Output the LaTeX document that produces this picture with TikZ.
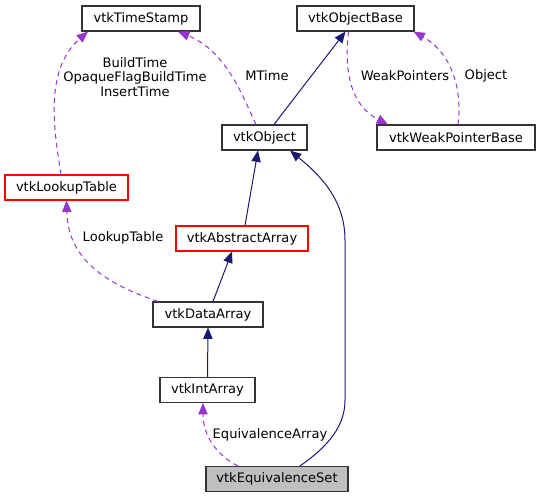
\documentclass[tikz,border=0pt]{standalone}
\usepackage{fontspec}
\setmainfont{DejaVu Sans}
\usetikzlibrary{arrows.meta,calc}
\definecolor{edgeblue}{HTML}{191970}
\definecolor{edgepurple}{HTML}{9A32CD}
\definecolor{nodeborder}{HTML}{333333}
\begin{document}
\begin{tikzpicture}[x=0.75pt,y=-0.75pt,
  font=\fontsize{9.8pt}{10.9pt}\selectfont,
  cls/.style={draw=nodeborder,line width=0.8pt,fill=white,minimum height=18.75pt,inner sep=0pt,anchor=center},
  redcls/.style={cls,draw=red},
  curcls/.style={cls,fill=black!25},
  inh/.style={draw=edgeblue,line width=0.75pt,-{Triangle[length=8.5pt,width=7pt]}},
  use/.style={draw=edgepurple,line width=0.75pt,dash pattern=on 3.75pt off 3pt,-{Triangle[length=8.5pt,width=7pt]}},
  lbl/.style={inner sep=0pt,align=center}]
\useasboundingbox (0,0) rectangle (540,499);
\node[cls,minimum width=88.5pt] (ts) at (141,18.5) {vtkTimeStamp};
\node[cls,minimum width=87.75pt] (ob) at (355.5,18.5) {vtkObjectBase};
\node[cls,minimum width=63.75pt] (obj) at (264.5,137.5) {vtkObject};
\node[cls,minimum width=118.5pt] (wpb) at (456,137.5) {vtkWeakPointerBase};
\node[redcls,minimum width=92.25pt] (lut) at (66.5,187.5) {vtkLookupTable};
\node[redcls,minimum width=99pt] (aa) at (242,238.5) {vtkAbstractArray};
\node[cls,minimum width=82.5pt] (da) at (208,314.5) {vtkDataArray};
\node[cls,minimum width=71.25pt] (ia) at (207.5,390) {vtkIntArray};
\node[curcls,minimum width=106.5pt] (es) at (277,479) {vtkEquivalenceSet};
% edges
\draw[use] ($(obj.north)+(-8.5,0)$) .. controls (244,100) and (228,52) .. ($(ts.south)+(37,0)$);
\node[lbl] (lmt) at (267,76) {MTime};
\draw[use] ($(lut.north)+(-5.5,0)$) .. controls (54,130) and (44,70) .. ($(ts.south)+(-53,0)$);
\node[lbl] (lbt) at (135,77) {BuildTime\\OpaqueFlagBuildTime\\InsertTime};
\draw[inh] ($(obj.north)+(9.5,0)$) -- ($(ob.south)+(-10,0)$);
\draw[use] ($(wpb.north)+(2,0)$) .. controls (462,95) and (455,55) .. ($(ob.south)+(58,0)$);
\node[lbl] (lobj) at (486,76) {Object};
\draw[use] ($(ob.south)+(-7,0)$) .. controls (344,70) and (350,105) .. ($(wpb.north)+(-68,0)$);
\node[lbl] (lwp) at (405,76) {WeakPointers};
\draw[inh] ($(aa.north)+(3,0)$) -- ($(obj.south)+(-6.5,0)$);
\draw[inh] ($(da.north)+(5,0)$) -- ($(aa.south)+(-10,0)$);
\draw[use] ($(da.north)+(-50,0)$) .. controls (110,285) and (68,262) .. (lut.south);
\node[lbl] (llt) at (123,238) {LookupTable};
\draw[inh] (ia.north) -- (da.south);
\draw[use] ($(es.north)+(-39,0)$) .. controls (216,455) and (203,435) .. ($(ia.south)+(-4.5,0)$);
\node[lbl] (lea) at (270,435) {EquivalenceArray};
\draw[inh] ($(es.north)+(23,0)$) .. controls (330,445) and (345,425) .. (345,400) -- (345,240) .. controls (345,200) and (320,175) .. ($(obj.south)+(25.5,0)$);
\end{tikzpicture}
\end{document}
